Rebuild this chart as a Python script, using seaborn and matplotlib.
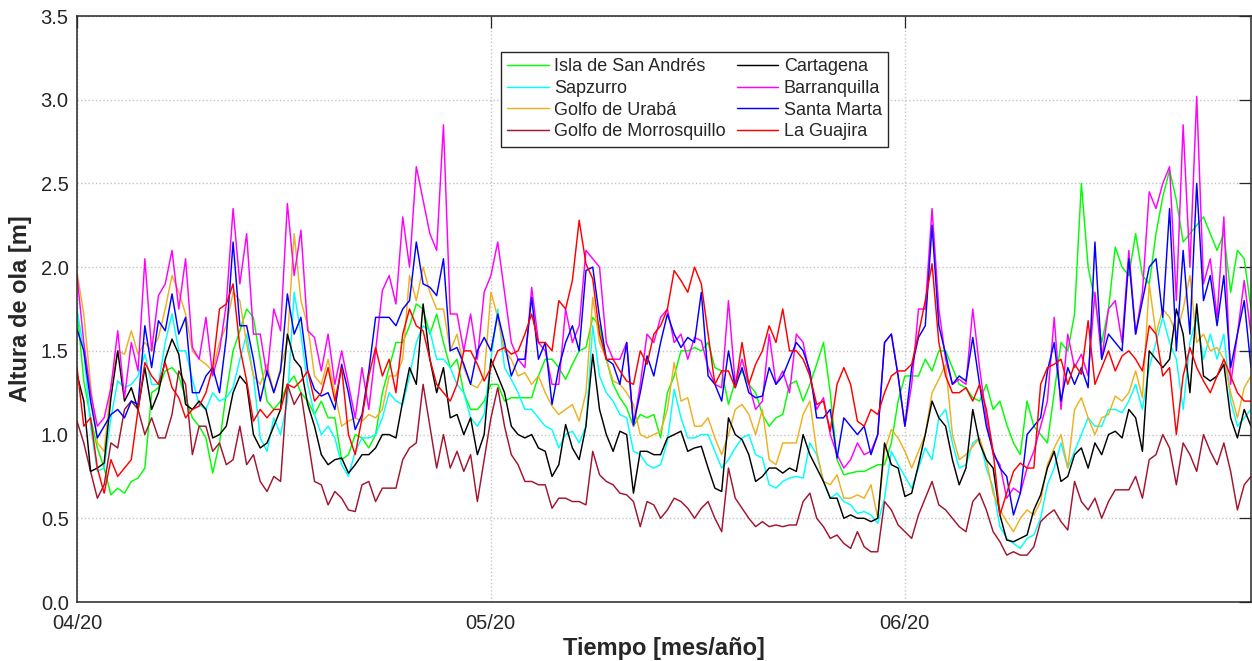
import numpy as np
import pandas as pd
import matplotlib
matplotlib.use("Agg")
import matplotlib.pyplot as plt
import seaborn as sns
from matplotlib.ticker import FixedLocator, FormatStrFormatter

# Altura significativa de ola (m), una muestra cada ~12 h desde el 1 de abril
isla_san_andres = [
    1.75, 1.32, 1.1, 0.92, 0.8, 0.64, 0.68, 0.65, 0.72, 0.74, 0.8, 1.25, 1.28, 1.38,
    1.4, 1.35, 1.22, 1.1, 1.05, 0.98, 0.77, 0.95, 1.25, 1.5, 1.62, 1.75, 1.7, 1.45,
    1.2, 1.15, 1.2, 1.3, 1.35, 1.25, 1.2, 1.12, 1.2, 1.1, 1.1, 0.85, 0.88, 1.0,
    0.98, 0.92, 1.0, 1.25, 1.4, 1.55, 1.55, 1.65, 1.78, 1.75, 1.6, 1.72, 1.55, 1.4,
    1.45, 1.25, 1.15, 1.15, 1.2, 1.3, 1.3, 1.2, 1.22, 1.22, 1.22, 1.22, 1.35, 1.45,
    1.45, 1.4, 1.33, 1.42, 1.5, 1.52, 1.7, 1.65, 1.45, 1.3, 1.22, 1.16, 1.05, 1.12,
    1.1, 1.12, 0.98, 1.25, 1.35, 1.5, 1.5, 1.52, 1.5, 1.55, 1.4, 1.38, 1.18, 1.32,
    1.38, 1.3, 1.25, 1.12, 1.05, 1.1, 1.12, 1.3, 1.32, 1.2, 1.3, 1.42, 1.55, 1.25,
    0.85, 0.76, 0.77, 0.78, 0.78, 0.8, 0.82, 0.82, 0.95, 1.2, 1.35, 1.35, 1.35, 1.45,
    1.38, 1.5, 1.5, 1.4, 1.3, 1.28, 1.22, 1.2, 1.3, 1.15, 1.2, 1.06, 0.95, 0.88,
    1.2, 1.05, 1.0, 0.95, 1.25, 1.55, 1.5, 1.72, 2.5, 2.0, 1.8, 1.55, 1.75, 2.12,
    2.0, 1.95, 2.2, 1.95, 1.9, 2.2, 2.42, 2.58, 2.4, 2.15, 2.2, 2.25, 2.3, 2.2,
    2.1, 2.2, 1.85, 2.1, 2.05, 1.75,
]
sapzurro = [
    1.75, 1.5, 1.05, 0.78, 0.8, 1.1, 1.32, 1.28, 1.3, 1.35, 1.48, 1.3, 1.3, 1.55,
    1.72, 1.5, 1.5, 1.33, 1.18, 1.15, 1.25, 1.2, 1.22, 1.28, 1.45, 1.6, 1.35, 0.98,
    0.9, 1.1, 1.0, 1.2, 1.85, 1.6, 1.3, 1.12, 1.0, 1.05, 0.98, 0.82, 0.75, 0.9,
    0.98, 0.98, 1.0, 1.1, 1.25, 1.2, 1.18, 1.35, 1.55, 1.65, 1.62, 1.45, 1.45, 1.4,
    1.3, 1.25, 1.1, 1.05, 1.12, 1.45, 1.75, 1.4, 1.33, 1.25, 1.15, 1.15, 1.1, 1.05,
    1.03, 0.92, 1.0, 1.02, 0.95, 1.05, 1.65, 1.35, 1.25, 1.2, 1.12, 1.1, 0.9, 0.88,
    0.82, 0.8, 0.82, 0.96, 1.27, 1.1, 0.98, 0.98, 1.0, 1.0, 0.9, 0.8, 0.85, 0.92,
    0.98, 1.0, 0.88, 0.86, 0.7, 0.68, 0.72, 0.74, 0.75, 0.74, 0.95, 0.88, 0.72, 0.62,
    0.65, 0.6, 0.58, 0.53, 0.54, 0.52, 0.47, 0.62, 0.9, 0.82, 0.75, 0.68, 0.8, 0.92,
    0.85, 1.1, 1.15, 0.95, 0.8, 0.82, 0.95, 0.98, 0.8, 0.68, 0.45, 0.38, 0.35, 0.32,
    0.38, 0.4, 0.5, 0.7, 0.8, 0.95, 0.8, 0.9, 1.0, 1.1, 1.05, 1.05, 1.15, 1.15,
    1.13, 1.2, 1.3, 1.15, 1.4, 1.55, 1.7, 1.55, 1.45, 1.15, 1.55, 1.7, 1.45, 1.6,
    1.45, 1.6, 1.2, 1.05, 1.1, 1.15,
]
golfo_uraba = [
    1.97, 1.72, 1.3, 0.95, 0.9, 1.3, 1.5, 1.48, 1.62, 1.48, 1.55, 1.5, 1.58, 1.75,
    1.95, 1.85, 1.72, 1.5, 1.45, 1.42, 1.38, 1.55, 1.65, 1.85, 1.8, 1.54, 1.35, 1.3,
    1.42, 1.25, 1.4, 1.55, 2.2, 1.8, 1.65, 1.35, 1.3, 1.45, 1.25, 1.05, 1.08, 1.1,
    1.08, 1.12, 1.1, 1.15, 1.35, 1.35, 1.45, 1.95, 1.8, 2.0, 1.85, 1.75, 1.75, 1.5,
    1.6, 1.4, 1.3, 1.28, 1.35, 1.85, 1.7, 1.5, 1.45, 1.35, 1.37, 1.3, 1.35, 1.25,
    1.17, 1.12, 1.15, 1.18, 1.08, 1.25, 1.82, 1.55, 1.45, 1.32, 1.3, 1.25, 1.18, 1.0,
    0.98, 1.0, 1.02, 1.15, 1.43, 1.2, 1.22, 1.05, 1.05, 1.1, 0.98, 0.88, 1.0, 1.15,
    1.18, 1.12, 1.0, 1.15, 0.85, 0.82, 0.95, 0.95, 0.95, 1.12, 1.2, 0.9, 0.72, 0.7,
    0.76, 0.62, 0.62, 0.64, 0.62, 0.7, 0.5, 0.9, 1.03, 0.98, 0.9, 0.8, 0.9, 1.0,
    1.25, 1.33, 1.42, 1.0, 0.85, 0.88, 0.93, 0.98, 0.85, 0.65, 0.55, 0.48, 0.42, 0.5,
    0.55, 0.52, 0.6, 0.82, 0.92, 1.0, 0.8, 1.15, 1.22, 1.1, 1.0, 1.1, 1.12, 1.23,
    1.2, 1.25, 1.38, 1.22, 1.9, 1.6, 1.75, 1.7, 1.6, 1.75, 1.95, 1.55, 1.6, 1.5,
    1.52, 1.45, 1.25, 1.1, 1.28, 1.35,
]
golfo_morrosquillo = [
    1.08, 0.95, 0.78, 0.62, 0.7, 0.95, 0.92, 1.15, 1.2, 1.15, 1.0, 1.1, 0.98, 0.98,
    1.12, 1.38, 1.3, 0.88, 1.05, 1.05, 0.9, 0.95, 0.82, 0.85, 1.05, 0.82, 0.88, 0.72,
    0.66, 0.75, 0.72, 1.3, 1.18, 1.25, 0.98, 0.72, 0.7, 0.58, 0.66, 0.62, 0.55, 0.54,
    0.7, 0.72, 0.6, 0.68, 0.68, 0.68, 0.85, 0.92, 0.95, 1.3, 1.05, 0.8, 1.0, 0.8,
    0.9, 0.78, 0.88, 0.6, 0.85, 1.1, 1.28, 1.05, 0.88, 0.82, 0.72, 0.72, 0.7, 0.7,
    0.56, 0.62, 0.62, 0.6, 0.6, 0.58, 0.9, 0.76, 0.72, 0.7, 0.65, 0.64, 0.6, 0.45,
    0.6, 0.58, 0.5, 0.55, 0.62, 0.6, 0.56, 0.5, 0.56, 0.6, 0.5, 0.42, 0.8, 0.62,
    0.56, 0.5, 0.45, 0.48, 0.45, 0.46, 0.45, 0.46, 0.46, 0.6, 0.65, 0.5, 0.45, 0.38,
    0.4, 0.35, 0.32, 0.42, 0.33, 0.3, 0.3, 0.6, 0.55, 0.46, 0.42, 0.38, 0.52, 0.62,
    0.72, 0.58, 0.55, 0.5, 0.45, 0.42, 0.6, 0.65, 0.55, 0.42, 0.36, 0.28, 0.3, 0.28,
    0.28, 0.33, 0.48, 0.52, 0.55, 0.48, 0.43, 0.72, 0.6, 0.55, 0.62, 0.5, 0.6, 0.67,
    0.67, 0.67, 0.75, 0.62, 0.85, 0.88, 1.0, 0.92, 0.7, 0.95, 0.88, 0.78, 1.0, 0.9,
    0.82, 0.95, 0.78, 0.55, 0.7, 0.75,
]
cartagena = [
    1.36, 1.2, 0.78, 0.8, 0.83, 1.22, 1.5, 1.2, 1.28, 1.15, 1.4, 1.15, 1.25, 1.45,
    1.57, 1.48, 1.18, 1.15, 1.2, 1.15, 0.98, 1.0, 1.05, 1.25, 1.35, 1.3, 1.0, 0.92,
    0.95, 1.05, 1.15, 1.6, 1.45, 1.4, 1.18, 1.05, 0.88, 0.82, 0.85, 0.86, 0.77, 0.82,
    0.88, 0.88, 0.92, 1.0, 1.0, 0.98, 1.2, 1.4, 1.3, 1.78, 1.45, 1.25, 1.4, 1.1,
    1.12, 1.0, 1.1, 0.88, 1.0, 1.45, 1.35, 1.25, 1.05, 1.0, 0.98, 1.0, 0.92, 0.9,
    0.75, 0.82, 1.06, 0.92, 0.85, 1.05, 1.48, 1.15, 1.0, 0.9, 1.02, 1.0, 0.65, 0.9,
    0.9, 0.88, 0.88, 0.98, 1.0, 1.02, 0.9, 0.92, 0.93, 0.8, 0.68, 0.66, 1.1, 1.0,
    0.97, 0.88, 0.72, 0.75, 0.8, 0.8, 0.77, 0.8, 0.78, 1.0, 0.88, 0.8, 0.72, 0.62,
    0.62, 0.5, 0.52, 0.5, 0.5, 0.48, 0.5, 0.95, 0.82, 0.8, 0.63, 0.65, 0.82, 1.0,
    1.2, 1.1, 1.05, 0.85, 0.7, 0.8, 1.15, 0.95, 0.85, 0.8, 0.52, 0.37, 0.36, 0.38,
    0.4, 0.55, 0.64, 0.8, 0.9, 0.72, 0.75, 0.88, 0.92, 0.8, 0.95, 0.88, 1.0, 1.02,
    0.98, 1.15, 1.1, 0.9, 1.5, 1.45, 1.4, 1.45, 1.75, 1.6, 1.25, 1.78, 1.35, 1.32,
    1.35, 1.42, 1.1, 0.98, 1.15, 1.05,
]
barranquilla = [
    1.95, 1.55, 1.25, 1.05, 1.1, 1.28, 1.62, 1.22, 1.55, 1.38, 2.05, 1.5, 1.83, 1.9,
    2.1, 1.75, 2.05, 1.52, 1.45, 1.7, 1.35, 1.5, 1.78, 2.35, 1.9, 2.2, 1.6, 1.6,
    1.35, 1.75, 1.62, 2.38, 1.95, 2.22, 1.62, 1.58, 1.38, 1.6, 1.3, 1.5, 1.3, 1.1,
    1.4, 1.15, 1.5, 1.86, 1.95, 1.78, 2.3, 2.0, 2.6, 2.4, 2.2, 2.1, 2.85, 1.72,
    1.72, 1.5, 1.72, 1.45, 1.85, 1.95, 2.15, 1.85, 1.55, 1.45, 1.4, 1.88, 1.55, 1.5,
    1.3, 1.3, 1.75, 1.55, 1.65, 2.1, 2.05, 2.0, 1.55, 1.45, 1.45, 1.55, 1.05, 1.3,
    1.6, 1.55, 1.7, 1.75, 1.55, 1.6, 1.45, 1.58, 1.56, 1.4, 1.3, 1.28, 1.8, 1.3,
    1.45, 1.3, 1.15, 1.2, 1.6, 1.3, 1.38, 1.25, 1.6, 1.55, 1.35, 1.15, 1.22, 1.0,
    0.88, 0.8, 0.85, 0.95, 0.88, 0.9, 1.0, 1.55, 1.6, 1.35, 1.05, 1.3, 1.75, 1.75,
    2.35, 1.75, 1.45, 1.3, 1.33, 1.3, 1.75, 1.4, 1.1, 0.88, 0.82, 0.62, 0.68, 0.65,
    0.8, 0.9, 1.05, 1.2, 1.7, 1.15, 1.6, 1.4, 1.48, 1.35, 1.85, 1.45, 1.75, 1.8,
    1.55, 2.1, 1.6, 1.85, 2.45, 2.35, 2.5, 2.6, 1.8, 2.85, 2.0, 3.02, 1.9, 2.05,
    1.7, 2.3, 1.3, 1.6, 1.92, 1.6,
]
santa_marta = [
    1.63, 1.5, 1.2, 0.98, 1.05, 1.12, 1.15, 1.1, 1.2, 1.18, 1.65, 1.4, 1.68, 1.62,
    1.84, 1.6, 1.7, 1.25, 1.25, 1.35, 1.4, 1.25, 1.58, 2.15, 1.65, 1.65, 1.45, 1.2,
    1.38, 1.25, 1.38, 1.84, 1.6, 1.7, 1.38, 1.27, 1.23, 1.25, 1.15, 1.42, 1.25, 1.03,
    1.12, 1.38, 1.7, 1.7, 1.7, 1.65, 1.75, 1.8, 2.15, 1.9, 1.88, 1.83, 2.05, 1.5,
    1.52, 1.42, 1.3, 1.5, 1.58, 1.5, 1.72, 1.55, 1.35, 1.45, 1.45, 1.82, 1.45, 1.55,
    1.18, 1.4, 1.55, 1.65, 1.5, 1.98, 2.0, 1.7, 1.45, 1.42, 1.3, 1.55, 1.06, 1.25,
    1.47, 1.35, 1.55, 1.72, 1.6, 1.52, 1.58, 1.55, 1.85, 1.35, 1.3, 1.2, 1.5, 1.28,
    1.4, 1.25, 1.22, 1.23, 1.4, 1.3, 1.35, 1.45, 1.55, 1.5, 1.38, 1.1, 1.1, 1.15,
    0.86, 1.1, 1.05, 1.0, 1.05, 0.88, 1.0, 1.55, 1.6, 1.35, 1.05, 1.4, 1.58, 1.65,
    2.25, 1.65, 1.48, 1.3, 1.35, 1.32, 1.58, 1.3, 1.05, 0.9, 0.8, 0.75, 0.52, 0.65,
    1.0, 1.05, 1.1, 1.38, 1.55, 1.2, 1.4, 1.3, 1.4, 1.28, 2.15, 1.45, 1.6, 1.55,
    1.5, 2.05, 1.6, 1.8, 2.0, 2.05, 1.7, 2.35, 1.5, 2.1, 1.6, 2.5, 1.8, 1.95,
    1.65, 1.95, 1.4, 1.6, 1.8, 1.4,
]
la_guajira = [
    1.4, 1.05, 1.1, 0.8, 0.65, 0.85, 0.75, 0.8, 0.85, 1.15, 1.43, 1.35, 1.3, 1.43,
    1.28, 1.22, 1.1, 1.15, 1.17, 1.25, 1.4, 1.75, 1.78, 1.9, 1.52, 1.32, 1.08, 1.15,
    1.1, 1.15, 1.15, 1.3, 1.28, 1.32, 1.38, 1.2, 1.25, 1.4, 1.2, 1.4, 1.0, 0.88,
    1.1, 1.35, 1.52, 1.35, 1.45, 1.25, 1.6, 1.75, 1.65, 1.62, 1.45, 1.3, 1.25, 1.2,
    1.3, 1.5, 1.5, 1.42, 1.32, 1.4, 1.5, 1.52, 1.48, 1.5, 1.6, 1.72, 1.55, 1.55,
    1.5, 1.8, 1.75, 1.92, 2.28, 2.02, 1.93, 1.6, 1.45, 1.45, 1.38, 1.32, 1.3, 1.5,
    1.42, 1.6, 1.65, 1.75, 1.98, 1.92, 1.85, 2.0, 1.9, 1.6, 1.3, 1.38, 1.38, 1.28,
    1.55, 1.3, 1.42, 1.5, 1.65, 1.55, 1.75, 1.5, 1.5, 1.45, 1.35, 1.18, 1.2, 1.02,
    1.3, 1.4, 1.3, 1.08, 1.05, 1.15, 1.12, 1.25, 1.35, 1.38, 1.38, 1.42, 1.6, 1.8,
    2.02, 1.55, 1.35, 1.25, 1.25, 1.28, 1.2, 1.3, 1.15, 0.9, 0.52, 0.65, 0.78, 0.83,
    0.8, 0.8, 1.3, 1.4, 1.42, 1.45, 1.3, 1.42, 1.36, 1.68, 1.3, 1.4, 1.5, 1.38,
    1.47, 1.5, 1.45, 1.38, 1.65, 1.6, 1.35, 1.4, 1.0, 1.35, 1.52, 1.4, 1.32, 1.25,
    1.35, 1.45, 1.35, 1.25, 1.2, 1.2,
]

estaciones = [
    "Isla de San Andrés", "Sapzurro", "Golfo de Urabá", "Golfo de Morrosquillo",
    "Cartagena", "Barranquilla", "Santa Marta", "La Guajira",
]
series = [
    isla_san_andres, sapzurro, golfo_uraba, golfo_morrosquillo,
    cartagena, barranquilla, santa_marta, la_guajira,
]
colores = [
    "#00FF00", "#00FFFF", "#EDB120", "#A2142F",
    "#000000", "#FF00FF", "#0000FF", "#FF0000",
]

etiquetas_mes = ["04/20", "05/20", "06/20"]
pos_mes = [0, 30, 60]          # días desde el inicio del registro
fin_registro = 85.12           # días

n = len(isla_san_andres)
dias = np.linspace(0.0, fin_registro, n)

df = pd.concat(
    [pd.DataFrame({"dia": dias, "hs": vals, "estacion": nombre})
     for nombre, vals in zip(estaciones, series)],
    ignore_index=True,
)

sns.set_theme(style="white")
plt.rcParams["font.family"] = ["Liberation Sans", "DejaVu Sans"]

gris = "#262626"
fig = plt.figure(figsize=(12.52, 6.61), dpi=100)
ax = fig.add_axes([77 / 1252, 59 / 661, 1174 / 1252, 586 / 661])

sns.lineplot(
    data=df, x="dia", y="hs", hue="estacion", hue_order=estaciones,
    palette=dict(zip(estaciones, colores)), estimator=None, sort=False,
    linewidth=1.05, ax=ax,
)

ax.set_xlim(0, fin_registro)
ax.set_ylim(0, 3.5)
ax.xaxis.set_major_locator(FixedLocator(pos_mes))
ax.set_xticklabels(etiquetas_mes)
ax.set_yticks(np.arange(0, 3.51, 0.5))
ax.yaxis.set_major_formatter(FormatStrFormatter("%.1f"))

ax.set_axisbelow(True)
ax.grid(True, linestyle=":", color="#c4c4c4", linewidth=1.0)
for s in ax.spines.values():
    s.set_visible(True)
    s.set_color(gris)
    s.set_linewidth(1.1)

ax.tick_params(axis="both", direction="in", length=8.5, width=0.9,
               top=True, right=True, colors=gris, labelsize=14.5)
ax.tick_params(axis="x", pad=8.5)
ax.tick_params(axis="y", pad=6)

ax.set_xlabel("Tiempo [mes/año]", fontsize=17, fontweight="bold", color=gris, labelpad=3)
ax.set_ylabel("Altura de ola [m]", fontsize=17, fontweight="bold", color=gris, labelpad=6)

handles, labels = ax.get_legend_handles_labels()
pares = [(h, l) for h, l in zip(handles, labels) if l in estaciones]
leg = ax.legend(
    [h for h, _ in pares], [l for _, l in pares],
    ncol=2, loc="upper left", bbox_to_anchor=(0.3612, 0.9386), borderaxespad=0,
    fontsize=13, frameon=True, fancybox=False, framealpha=1,
    handlelength=2.3, handletextpad=0.3, columnspacing=0.6, labelspacing=0.26,
    borderpad=0.35,
)
leg.get_frame().set_edgecolor(gris)
leg.get_frame().set_linewidth(1.0)
for t in leg.get_texts():
    t.set_color(gris)

fig.savefig("out.png", dpi=100)
